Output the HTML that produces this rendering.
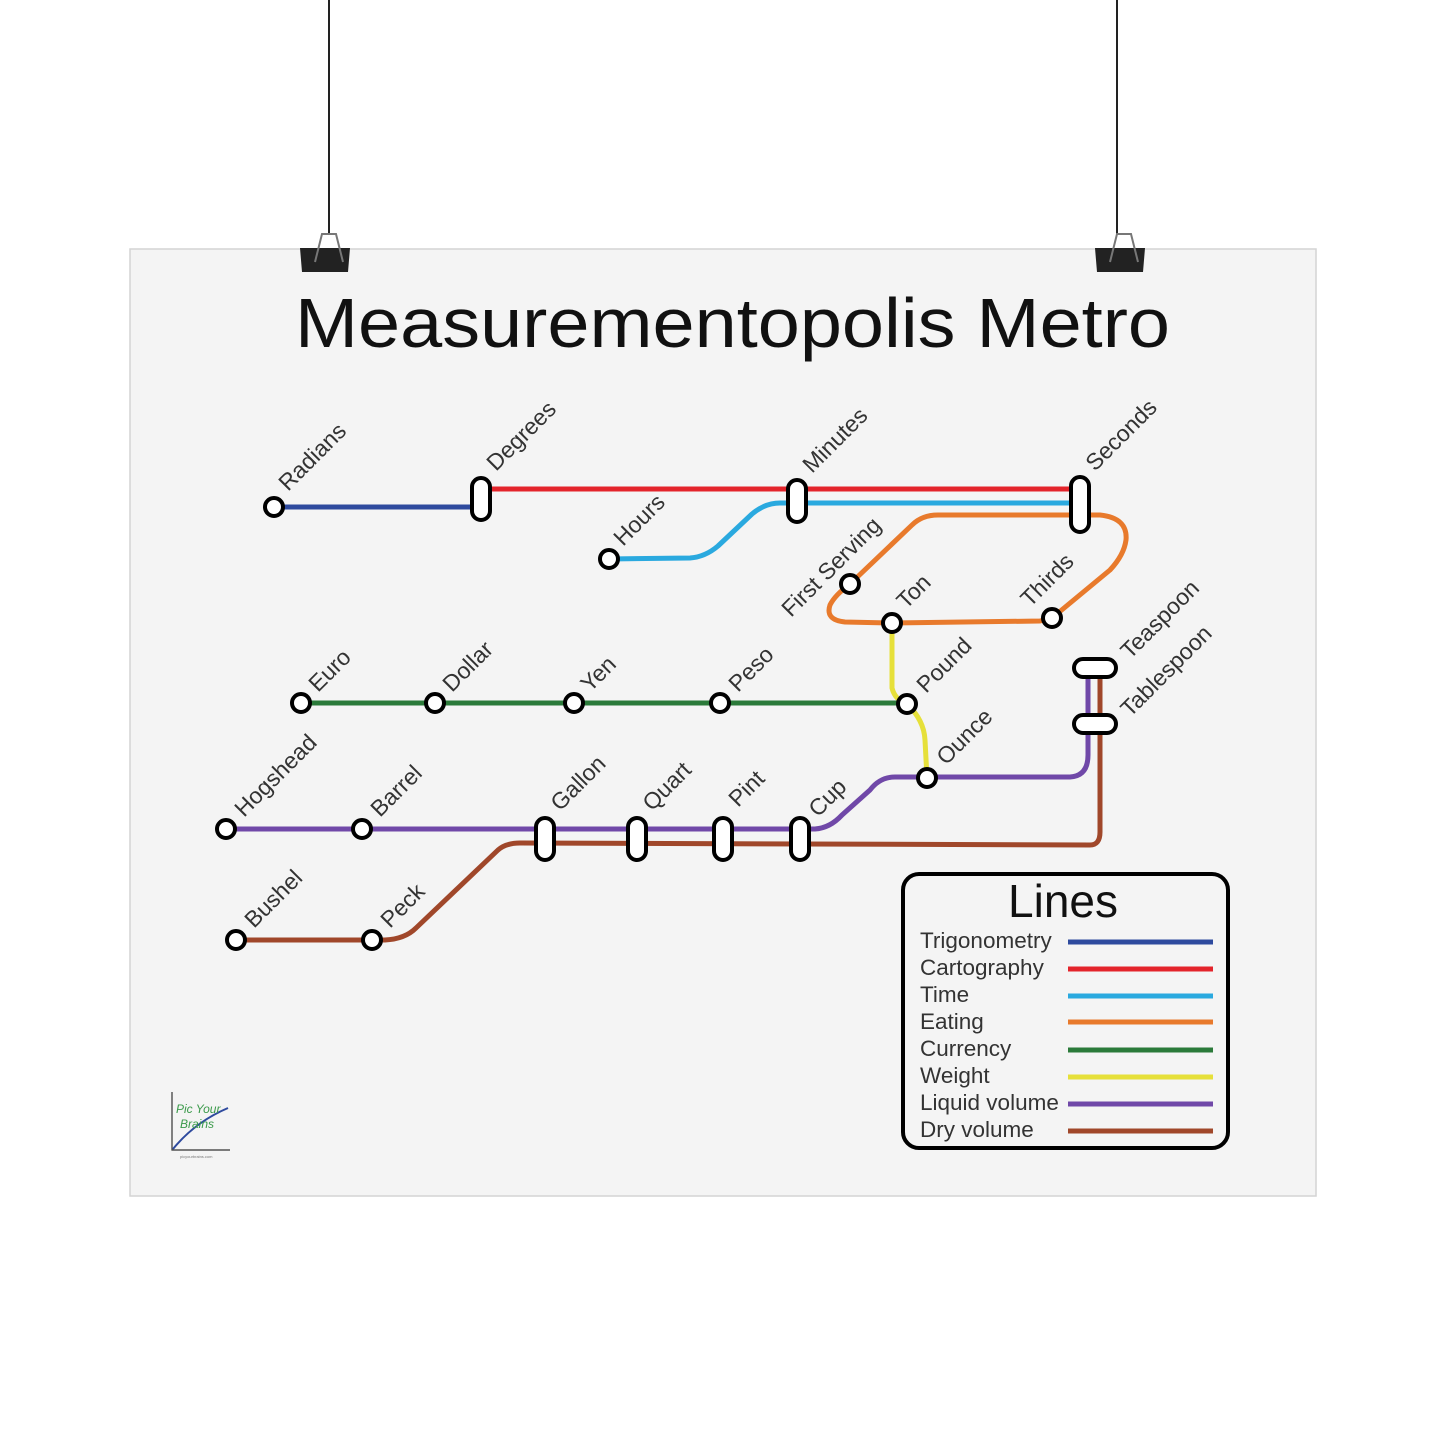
<!DOCTYPE html>
<html><head><meta charset="utf-8"><style>
html,body{margin:0;padding:0;background:#fff;}
svg{display:block;}
text{font-family:"Liberation Sans",sans-serif;}
</style></head><body>
<svg width="1445" height="1445" viewBox="0 0 1445 1445" xmlns="http://www.w3.org/2000/svg">
<rect x="0" y="0" width="1445" height="1445" fill="#fff"/>
<line x1="329" y1="0" x2="329" y2="235" stroke="#222" stroke-width="2"/>
<line x1="1117" y1="0" x2="1117" y2="235" stroke="#222" stroke-width="2"/>
<rect x="130" y="249" width="1186" height="947" fill="#f4f4f4" stroke="#d4d4d4" stroke-width="1.5"/>
<g fill="#222">
<path d="M300 248 L350 248 L348 272 L302 272Z"/>
<path d="M1095 248 L1145 248 L1143 272 L1097 272Z"/>
</g>
<g fill="none" stroke="#777" stroke-width="2">
<path d="M315 262 L322 234 L336 234 L343 262"/>
<path d="M1110 262 L1117 234 L1131 234 L1138 262"/>
</g>
<text x="295" y="347" font-size="70" textLength="875" lengthAdjust="spacingAndGlyphs" fill="#111">Measurementopolis Metro</text>
<g fill="none" stroke-width="5" stroke-linecap="round" stroke-linejoin="round">
<path d="M274 507 L481 507" stroke="#2e4a9e"/>
<path d="M481 489 L1080 489" stroke="#e3242b"/>
<path d="M609 559 L690 558 Q705 557 718 546 L752 514 Q765 503 780 503 L1080 503" stroke="#2aa9df"/>
<path d="M850 584 L912 525 Q922 515 938 515 L1100 515 Q1128 518 1126 540 Q1124 555 1110 570 L1052 618 L1040 621 L892 623 L845 622 Q825 620 830 605 Q835 595 850 584" stroke="#e87a2c"/>
<path d="M892 623 L892 688 Q895 700 907 704 Q924 720 925 740 L927 778" stroke="#e6e03a"/>
<path d="M301 703 L907 703" stroke="#2b7a3a"/>
<path d="M226 829 L815 829 Q830 828 842 815 L870 790 Q880 777 895 777 L1070 777 Q1088 776 1088 755 L1088 668" stroke="#7048a8"/>
<path d="M236 940 L385 940 Q405 939 416 928 L498 850 Q506 843 520 843 L1090 845 Q1100 845 1100 832 L1100 668" stroke="#a0472a"/>
</g>
<g fill="#fff" stroke="#000" stroke-width="4">
<circle cx="274" cy="507" r="9"/>
<circle cx="609" cy="559" r="9"/>
<circle cx="850" cy="584" r="9"/>
<circle cx="892" cy="623" r="9"/>
<circle cx="1052" cy="618" r="9"/>
<circle cx="301" cy="703" r="9"/>
<circle cx="435" cy="703" r="9"/>
<circle cx="574" cy="703" r="9"/>
<circle cx="720" cy="703" r="9"/>
<circle cx="907" cy="704" r="9"/>
<circle cx="927" cy="778" r="9"/>
<circle cx="226" cy="829" r="9"/>
<circle cx="362" cy="829" r="9"/>
<circle cx="236" cy="940" r="9"/>
<circle cx="372" cy="940" r="9"/>
<rect x="472" y="478" width="18" height="42" rx="9"/>
<rect x="788" y="480" width="18" height="42" rx="9"/>
<rect x="1071" y="477" width="18" height="55" rx="9"/>
<rect x="536" y="818" width="18" height="42" rx="9"/>
<rect x="628" y="818" width="18" height="42" rx="9"/>
<rect x="714" y="818" width="18" height="42" rx="9"/>
<rect x="791" y="818" width="18" height="42" rx="9"/>
<rect x="1074" y="659" width="42" height="18" rx="9"/>
<rect x="1074" y="715" width="42" height="18" rx="9"/>
</g>
<g font-size="23" fill="#333">
<text transform="translate(288,492) rotate(-45)">Radians</text>
<text transform="translate(496,472) rotate(-45)">Degrees</text>
<text transform="translate(812,474) rotate(-45)">Minutes</text>
<text transform="translate(1095,472) rotate(-45)">Seconds</text>
<text transform="translate(623,547) rotate(-45)">Hours</text>
<text transform="translate(791,618) rotate(-45)">First Serving</text>
<text transform="translate(906,610) rotate(-45)">Ton</text>
<text transform="translate(1030,608) rotate(-45)">Thirds</text>
<text transform="translate(1130,660) rotate(-45)">Teaspoon</text>
<text transform="translate(1130,718) rotate(-45)">Tablespoon</text>
<text transform="translate(318,693) rotate(-45)">Euro</text>
<text transform="translate(452,693) rotate(-45)">Dollar</text>
<text transform="translate(590,693) rotate(-45)">Yen</text>
<text transform="translate(738,693) rotate(-45)">Peso</text>
<text transform="translate(926,694) rotate(-45)">Pound</text>
<text transform="translate(946,766) rotate(-45)">Ounce</text>
<text transform="translate(244,818) rotate(-45)">Hogshead</text>
<text transform="translate(380,818) rotate(-45)">Barrel</text>
<text transform="translate(560,812) rotate(-45)">Gallon</text>
<text transform="translate(652,812) rotate(-45)">Quart</text>
<text transform="translate(738,808) rotate(-45)">Pint</text>
<text transform="translate(818,818) rotate(-45)">Cup</text>
<text transform="translate(254,929) rotate(-45)">Bushel</text>
<text transform="translate(390,929) rotate(-45)">Peck</text>
</g>
<rect x="903" y="874" width="325" height="274" rx="16" fill="#f4f4f4" stroke="#000" stroke-width="4"/>
<text x="1063" y="917" font-size="46" text-anchor="middle" fill="#111">Lines</text>
<g font-size="22.5" fill="#333">
<text x="920" y="948">Trigonometry</text>
<text x="920" y="975">Cartography</text>
<text x="920" y="1002">Time</text>
<text x="920" y="1029">Eating</text>
<text x="920" y="1056">Currency</text>
<text x="920" y="1083">Weight</text>
<text x="920" y="1110">Liquid volume</text>
<text x="920" y="1137">Dry volume</text>
</g>
<g stroke-width="5">
<line x1="1068" y1="942" x2="1213" y2="942" stroke="#2e4a9e"/>
<line x1="1068" y1="969" x2="1213" y2="969" stroke="#e3242b"/>
<line x1="1068" y1="996" x2="1213" y2="996" stroke="#2aa9df"/>
<line x1="1068" y1="1022" x2="1213" y2="1022" stroke="#e87a2c"/>
<line x1="1068" y1="1050" x2="1213" y2="1050" stroke="#2b7a3a"/>
<line x1="1068" y1="1077" x2="1213" y2="1077" stroke="#e6e03a"/>
<line x1="1068" y1="1104" x2="1213" y2="1104" stroke="#7048a8"/>
<line x1="1068" y1="1131" x2="1213" y2="1131" stroke="#a0472a"/>
</g>
<g>
<path d="M172 1092 L172 1150 L230 1150" fill="none" stroke="#333" stroke-width="1.2"/>
<path d="M173 1149 Q195 1122 228 1108" fill="none" stroke="#2e4a9e" stroke-width="2"/>
<text x="176" y="1113" font-size="12" fill="#3a9a4a" font-style="italic">Pic Your</text>
<text x="180" y="1128" font-size="12" fill="#3a9a4a" font-style="italic">Brains</text>
<text x="180" y="1158" font-size="4" fill="#777">picyourbrains.com</text>
</g>
</svg>
</body></html>
